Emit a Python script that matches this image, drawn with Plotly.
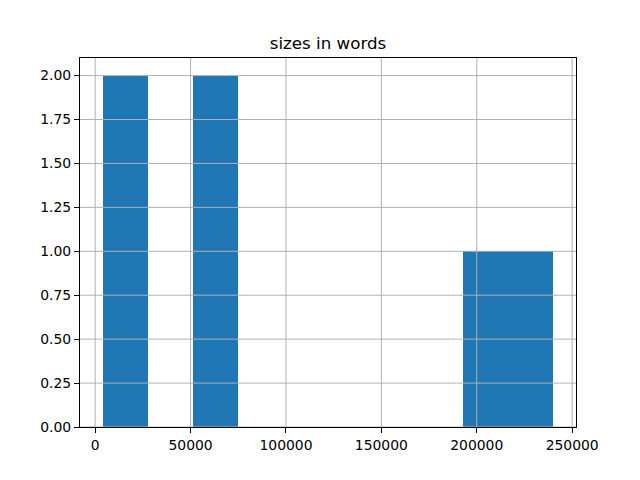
import numpy as np
import plotly.graph_objects as go

# Document sizes in words
sizes_in_words = [3850, 16000, 56000, 69000, 205000, 240200]
n_bins = 10
y_ticks = [0.0, 0.25, 0.5, 0.75, 1.0, 1.25, 1.5, 1.75, 2.0]
x_ticks = [0, 50000, 100000, 150000, 200000, 250000]

counts, edges = np.histogram(sizes_in_words, bins=n_bins)
centers = (edges[:-1] + edges[1:]) / 2
widths = np.diff(edges)

lo, hi = edges[0], edges[-1]
pad = 0.05 * (hi - lo)
x_range = [lo - pad, hi + pad]
y_range = [0, counts.max() * 1.05]

font = "DejaVu Sans"
fig = go.Figure(go.Bar(
    x=centers, y=counts, width=widths,
    marker=dict(color="#1f77b4", line=dict(width=0)),
))

grid = dict(type="line", layer="above", line=dict(color="#b0b0b0", width=1))
shapes = []
for t in x_ticks:
    shapes.append(dict(grid, xref="x", yref="paper", x0=t, x1=t, y0=0, y1=1))
for t in y_ticks:
    shapes.append(dict(grid, xref="paper", yref="y", x0=0, x1=1, y0=t, y1=t))

axis_common = dict(
    showgrid=False, zeroline=False, showline=True, mirror=True,
    linecolor="black", linewidth=1, ticks="outside", ticklen=5,
    tickwidth=1, tickcolor="black",
    tickfont=dict(family=font, size=13.9, color="black"),
)

W, H = 632, 472  # page body has an 8px margin
fig.update_layout(
    width=W, height=H,
    margin=dict(l=72, r=64, t=50, b=53),
    paper_bgcolor="white", plot_bgcolor="white",
    showlegend=False,
    bargap=0,
    shapes=shapes,
    title=dict(text="sizes in words", x=0.5, xref="paper", xanchor="center",
               y=1 - 35 / H, yref="container", yanchor="middle",
               font=dict(family=font, size=16.7, color="black")),
    xaxis=dict(axis_common, range=x_range, tickvals=x_ticks, tickformat="d"),
    yaxis=dict(axis_common, range=y_range, tickvals=y_ticks, tickformat=".2f"),
)

fig.write_html("out.html")
